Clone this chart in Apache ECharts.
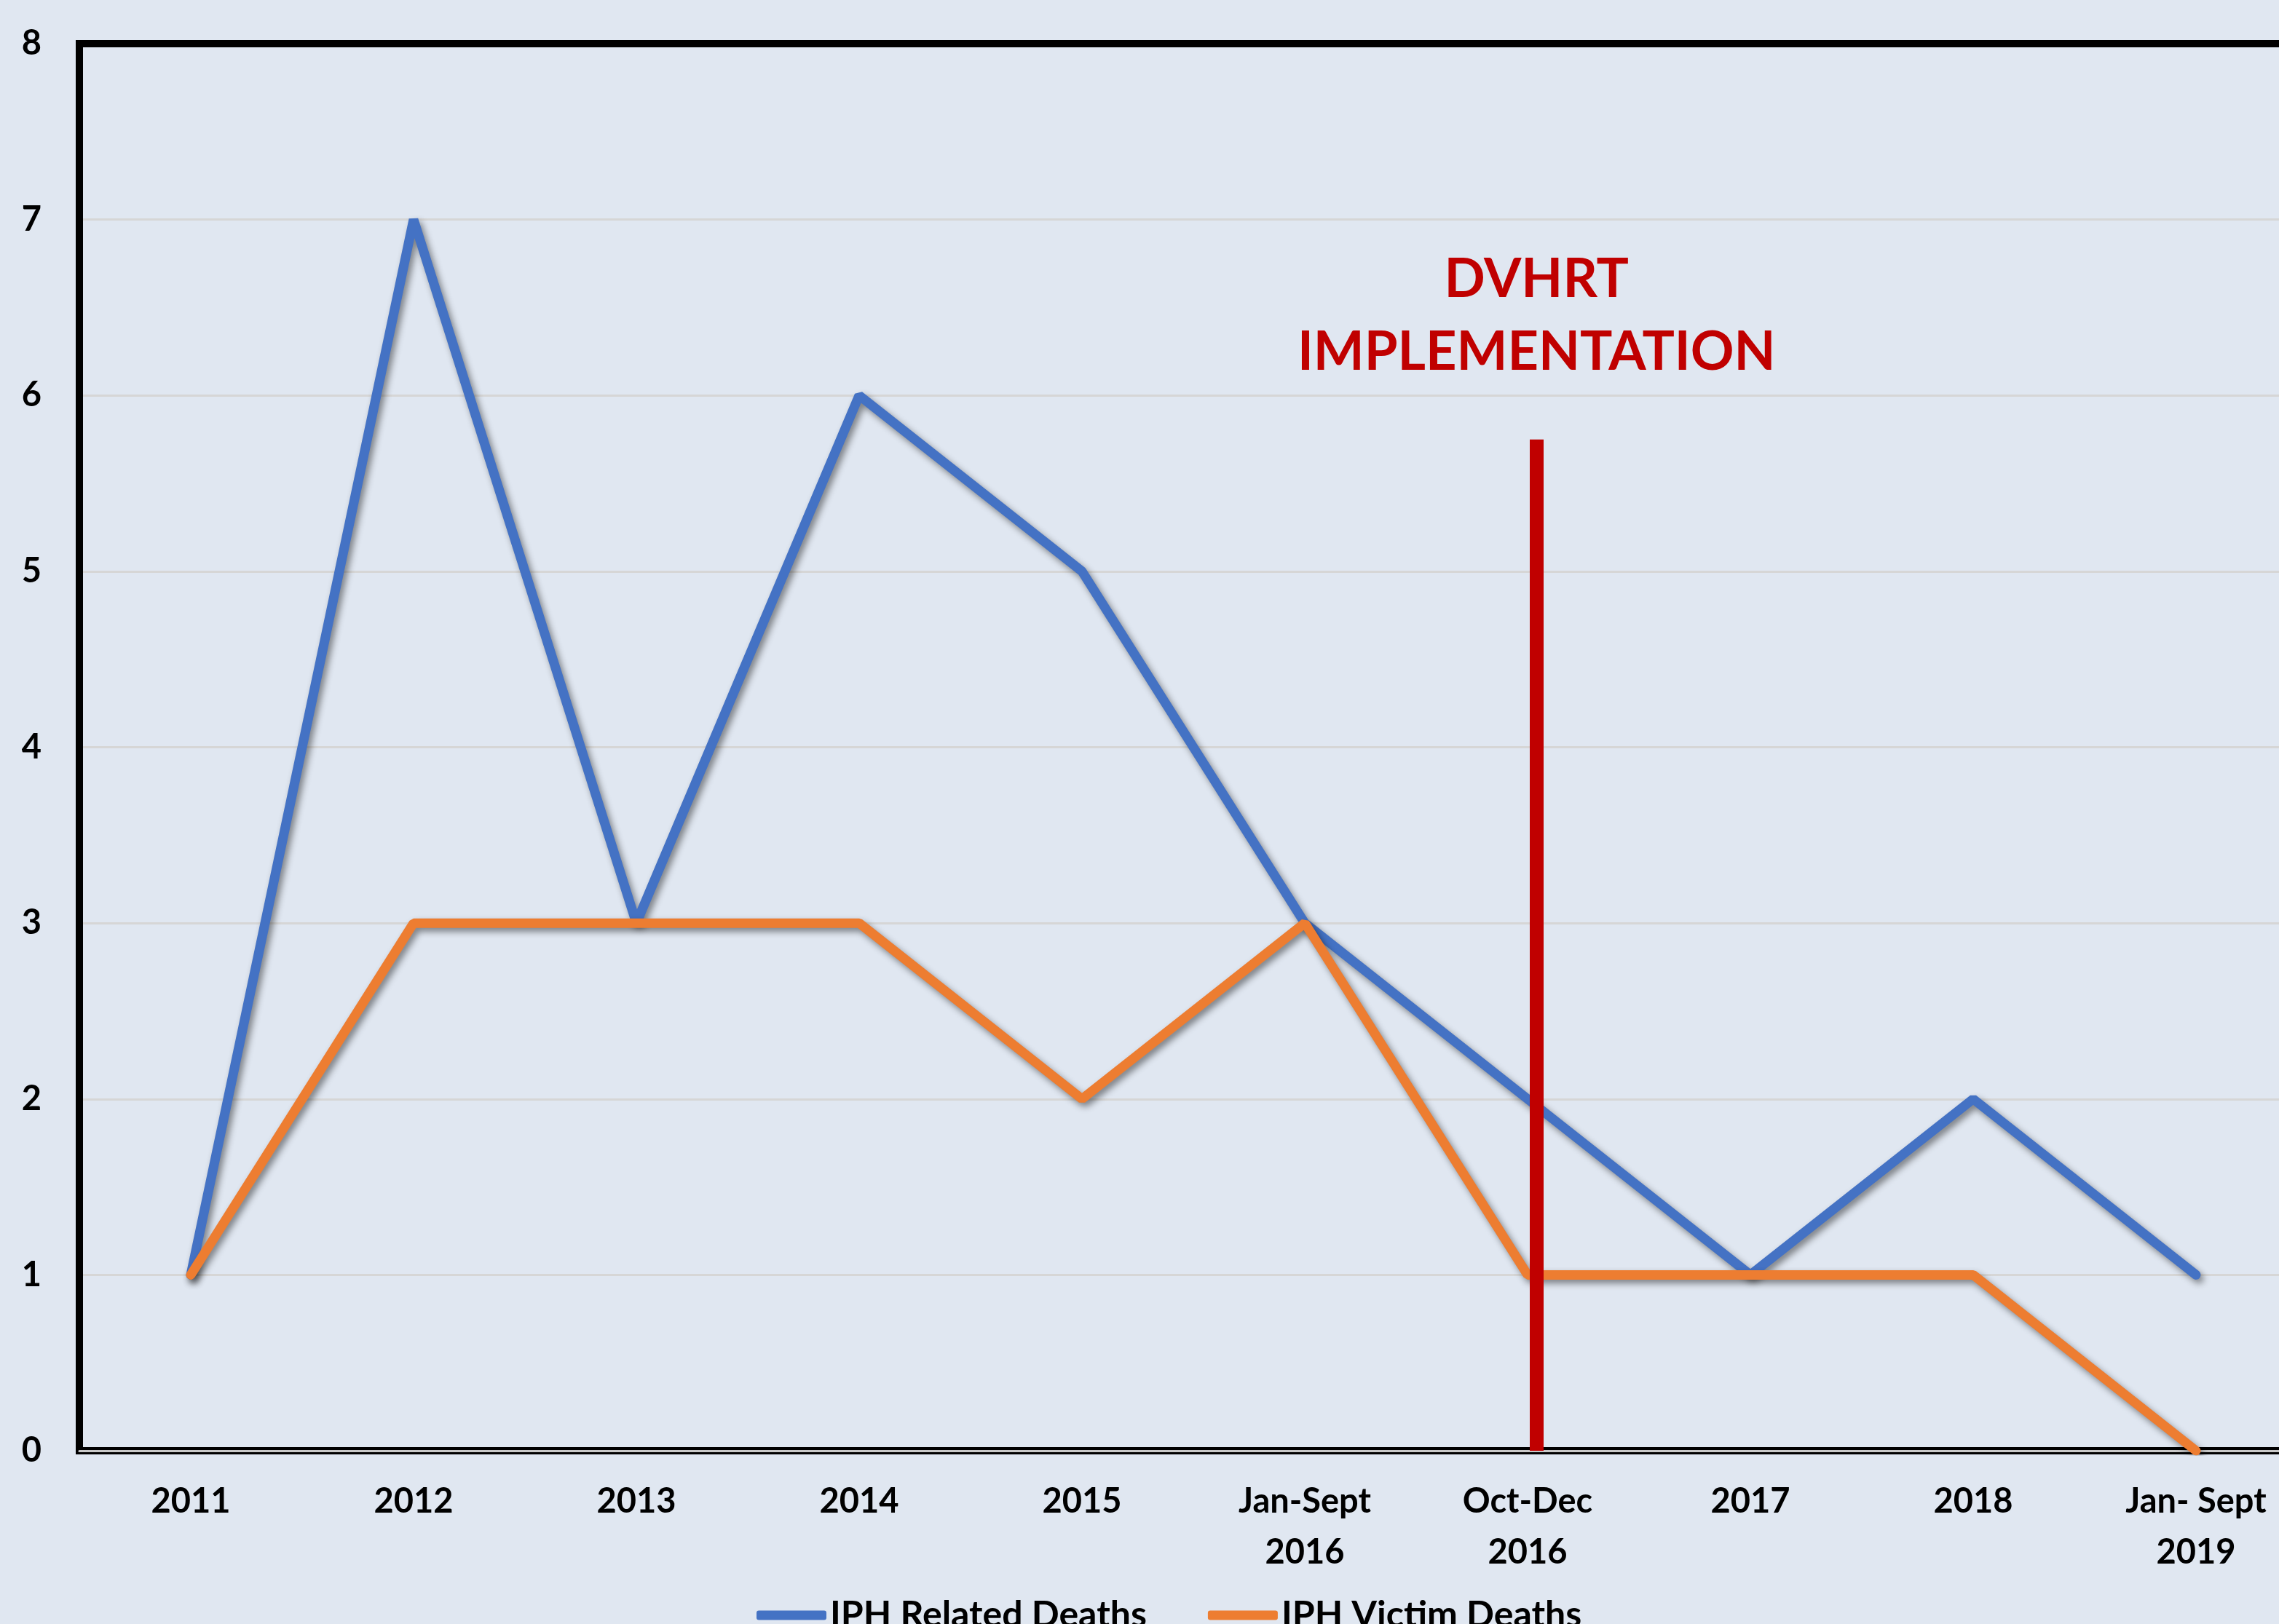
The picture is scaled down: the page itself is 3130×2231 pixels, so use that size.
<!DOCTYPE html>
<html>
<head>
<meta charset="utf-8">
<script src="https://cdn.jsdelivr.net/npm/echarts@6/dist/echarts.min.js"></script>
<style>
  html, body { margin: 0; padding: 0; background: #E0E7F1; }
  #chart { width: 3130px; height: 2231px; }
</style>
</head>
<body>
<div id="chart"></div>
<script>
var categories = ['2011', '2012', '2013', '2014', '2015', 'Jan-Sept\n2016', 'Oct-Dec\n2016', '2017', '2018', 'Jan- Sept\n2019'];
var relatedDeaths = [1, 7, 3, 6, 5, 3, 2, 1, 2, 1];
var victimDeaths = [1, 3, 3, 3, 2, 3, 1, 1, 1, 0];
// red marker: position on the category scale (index) and its top value
var implementationAt = 6.04;
var implementationTop = 5.75;

var fontFamily = 'Lato, "Open Sans", sans-serif';
var shadow = {
    shadowColor: 'rgba(0,0,0,0.45)',
    shadowBlur: 10,
    shadowOffsetX: 4,
    shadowOffsetY: 5
};

var myChart = echarts.init(document.getElementById('chart'));

var option = {
    backgroundColor: '#E0E7F1',
    animation: false,
    textStyle: { fontFamily: fontFamily },
    grid: {
        left: 109,
        top: 60,
        width: 3060,
        height: 1933,
        outerBoundsMode: 'none',
        containLabel: false,
        show: true,
        borderColor: '#000',
        borderWidth: 10,
        backgroundColor: 'transparent'
    },
    legend: {
        left: 1034,
        top: 2189,
        itemWidth: 96,
        itemHeight: 13,
        itemGap: 84,
        icon: 'roundRect',
        textStyle: { color: '#000', fontSize: 50, fontWeight: 'bold', fontFamily: fontFamily },
        data: ['IPH Related Deaths', 'IPH Victim Deaths']
    },
    xAxis: [{
        type: 'category',
        data: categories,
        boundaryGap: true,
        axisLine: { show: true, onZero: false, lineStyle: { color: '#C8C8C8', width: 3 } },
        axisTick: { show: false },
        axisLabel: {
            color: '#000',
            fontSize: 47,
            fontWeight: 'bold',
            lineHeight: 70,
            margin: 35,
            interval: 0
        },
        splitLine: { show: false }
    }, {
        type: 'value',
        min: -0.5,
        max: 9.5,
        show: false
    }, {
        type: 'category',
        data: categories,
        position: 'top',
        axisLine: { show: true, onZero: false, lineStyle: { color: '#000', width: 10 } },
        axisTick: { show: false },
        axisLabel: { show: false },
        splitLine: { show: false }
    }],
    yAxis: {
        type: 'value',
        min: 0,
        max: 8,
        interval: 1,
        axisLine: { show: true, onZero: false, lineStyle: { color: '#000', width: 10 } },
        axisTick: { show: false },
        axisLabel: {
            color: '#000',
            fontSize: 47,
            fontWeight: 'bold',
            margin: 52
        },
        splitLine: { show: true, lineStyle: { color: '#D6D6D6', width: 3 } }
    },
    series: [{
        name: 'IPH Related Deaths',
        type: 'line',
        data: relatedDeaths,
        showSymbol: false,
        symbol: 'none',
        color: '#4472C4',
        lineStyle: Object.assign({ color: '#4472C4', width: 13, cap: 'round' }, shadow),
        z: 3
    }, {
        name: 'IPH Victim Deaths',
        type: 'line',
        data: victimDeaths,
        showSymbol: false,
        symbol: 'none',
        color: '#ED7D31',
        lineStyle: Object.assign({ color: '#ED7D31', width: 13, cap: 'round' }, shadow),
        z: 4
    }, {
        name: 'DVHRT',
        type: 'line',
        xAxisIndex: 1,
        data: [],
        markLine: {
            silent: true,
            symbol: ['none', 'none'],
            z: 10,
            lineStyle: { color: '#C00000', width: 19, type: 'solid', opacity: 1, cap: 'butt' },
            label: {
                show: true,
                position: 'end',
                distance: 70,
                formatter: 'DVHRT\nIMPLEMENTATION',
                color: '#C00000',
                fontSize: 74,
                fontWeight: 'bold',
                lineHeight: 100,
                align: 'center',
                fontFamily: fontFamily
            },
            emphasis: { disabled: true },
            data: [[
                { coord: [implementationAt, 0] },
                { coord: [implementationAt, implementationTop] }
            ]]
        }
    }]
};
myChart.setOption(option, true);
</script>
</body>
</html>
